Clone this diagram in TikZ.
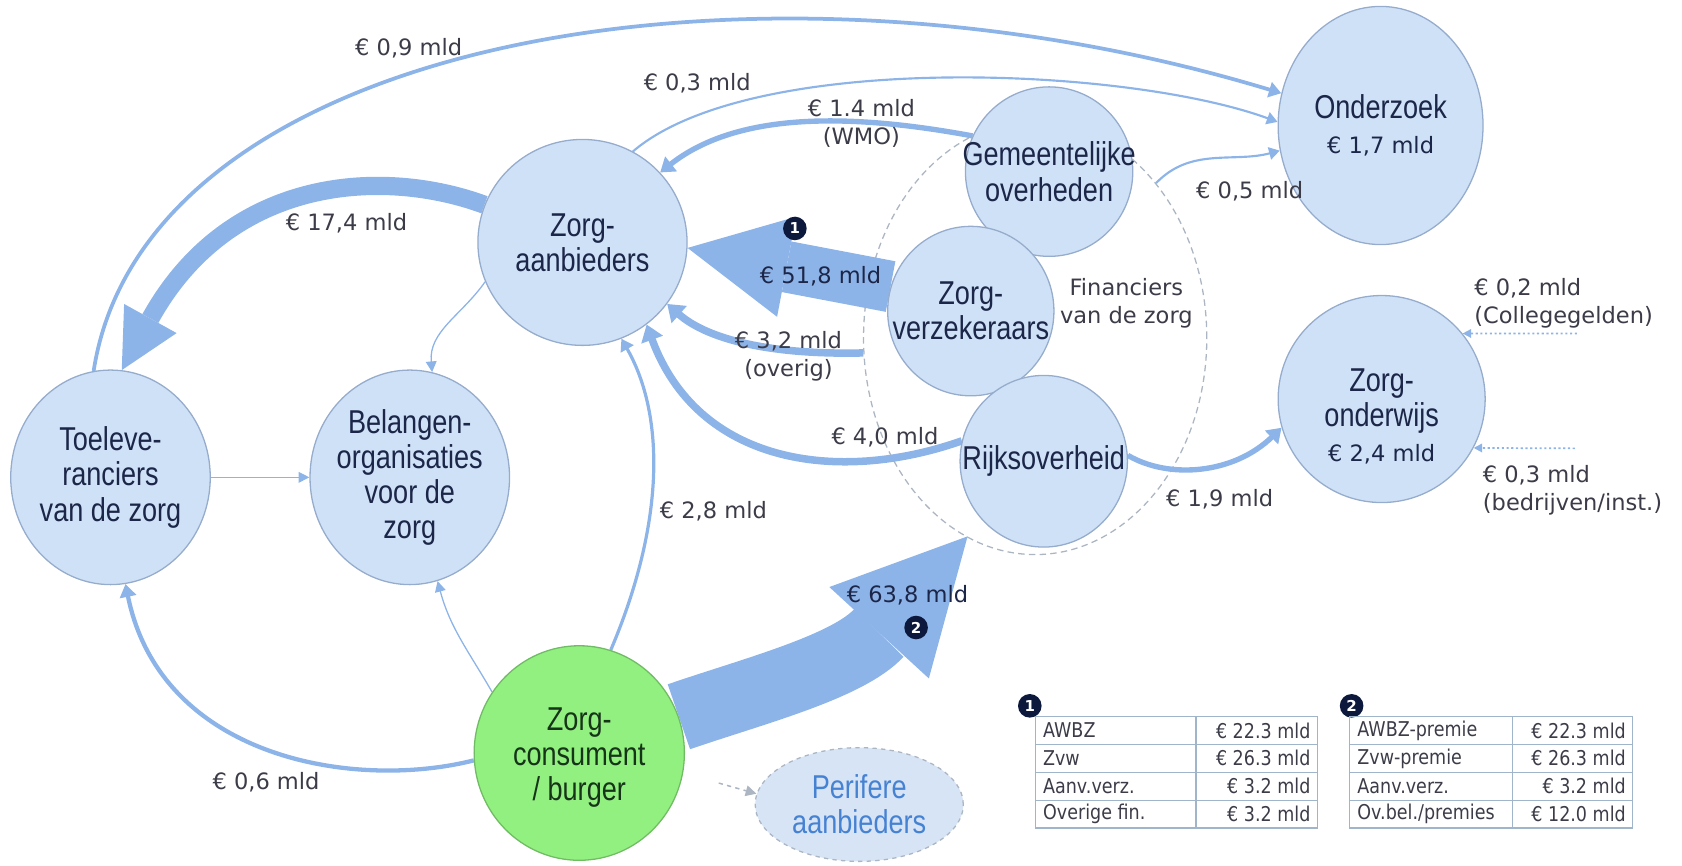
\documentclass[tikz,border=0pt]{standalone}
\usepackage{fontspec}
\setmainfont{DejaVu Sans}
\newfontfamily\narrowfont[FakeStretch=0.82]{Liberation Sans}
\newfontfamily\tablefont[FakeStretch=0.86]{DejaVu Sans}
\usetikzlibrary{shapes.geometric,arrows.meta,backgrounds}

\definecolor{bubfill}{RGB}{207,225,246}
\definecolor{bubline}{RGB}{150,172,204}
\definecolor{flowblue}{RGB}{141,180,232}
\definecolor{navy}{RGB}{28,38,72}
\definecolor{lblgray}{RGB}{60,60,72}
\definecolor{burgergreen}{RGB}{146,240,128}
\definecolor{burgerline}{RGB}{112,188,100}
\definecolor{dashgray}{RGB}{172,182,194}
\definecolor{perfill}{RGB}{214,228,246}
\definecolor{perblue}{RGB}{70,130,210}
\definecolor{badgecol}{RGB}{12,24,60}
\definecolor{tblgrid}{RGB}{160,180,202}

\tikzset{
  bubble/.style={ellipse, draw=bubline, fill=bubfill, line width=0.6pt, inner sep=0pt},
  bubtxt/.style={font=\narrowfont\fontsize{15.4}{16.4}\selectfont, text=navy, align=center, inner sep=0pt},
  amount/.style={font=\fontsize{10.5}{13}\selectfont, text=lblgray, align=center, inner sep=1pt},
  flowline/.style={draw=flowblue, line width=#1, -{Triangle[length=4pt 1, width=4pt 1.8]}},
  bigflow/.style={draw=flowblue, line width=#1},
  thinflow/.style={draw=flowblue, line width=0.6pt, -{Triangle[length=5pt, width=5pt]}},
  dashflow/.style={draw=dashgray, line width=0.7pt, dash pattern=on 2pt off 2pt, -{Triangle[length=5pt, width=5pt]}},
  dotflow/.style={draw=flowblue, line width=0.8pt, dash pattern=on 1pt off 1.2pt, -{Triangle[length=4pt, width=4pt]}},
  badge/.style={circle, fill=badgecol, text=white, font=\bfseries\fontsize{7}{7}\selectfont, inner sep=0pt, minimum size=11pt},
  cell/.style={font=\tablefont\fontsize{9.5}{11}\selectfont, text=lblgray, inner sep=0pt},
  tblcell/.style={draw=tblgrid, line width=0.6pt}
}

\begin{document}
\begin{tikzpicture}[x=0.5pt, y=0.5pt]
\useasboundingbox (0,0) rectangle (1568,807);

\node[bubble, minimum width=97.5pt, minimum height=96pt] (za) at (543,581) {};
\node[bubble, minimum width=78pt, minimum height=79pt] (go) at (978,647) {};
\node[bubble, minimum width=77.5pt, minimum height=79pt] (zv) at (905,517) {};
\node[bubble, minimum width=78pt, minimum height=80pt] (ro) at (973,377) {};
\node[bubble, minimum width=95.5pt, minimum height=111pt] (oz) at (1287,690) {};
\node[bubble, minimum width=96.5pt, minimum height=96.5pt] (zo) at (1288,435) {};
\node[bubble, minimum width=93pt, minimum height=100pt] (tl) at (103,362) {};
\node[bubble, minimum width=93pt, minimum height=100pt] (bo) at (382,362) {};
\node[bubble, fill=burgergreen, draw=burgerline, minimum width=98pt, minimum height=100pt] (zc) at (540,105) {};
\node[bubble, fill=perfill, draw=dashgray, dash pattern=on 2pt off 2pt, minimum width=97pt, minimum height=53pt] (pa) at (801,57) {};

\node[bubtxt] (zatxt) at (za) {Zorg-\\aanbieders};
\node[bubtxt] (gotxt) at (go) {Gemeentelijke\\overheden};
\node[bubtxt] (zvtxt) at (zv) {Zorg-\\verzekeraars};
\node[bubtxt] (rotxt) at (ro) {Rijksoverheid};
\node[bubtxt] (oztxt) at (oz) {Onderzoek\\{\rmfamily\fontsize{10.5}{16}\selectfont € 1,7 mld}};
\node[bubtxt] (zotxt) at (1288,419) {Zorg-\\onderwijs\\{\rmfamily\fontsize{10.5}{20}\selectfont € 2,4 mld}};
\node[bubtxt] (tltxt) at (tl) {Toeleve-\\ranciers\\van de zorg};
\node[bubtxt] (botxt) at (bo) {Belangen-\\organisaties\\voor de\\zorg};
\node[bubtxt, text={rgb,255:red,22;green,52;blue,24}] (zctxt) at (540,101) {Zorg-\\consument\\/ burger};
\node[bubtxt, text=perblue] (patxt) at (pa) {Perifere\\aanbieders};

\begin{scope}[on background layer]
\node[ellipse, draw=dashgray, line width=0.6pt, dash pattern=on 3pt off 2pt, minimum width=160pt, minimum height=202pt] (fin) at (965,492) {};

\draw[flowline=1.75pt] (tl.99) .. controls (135,770) and (700,870) .. (oz.162);
\draw[flowline=1pt] (za.61) .. controls (700,760) and (1050,745) .. (oz.178);
\draw[flowline=2.5pt] (go.155) .. controls (800,700) and (690,705) .. (za.42);
\draw[flowline=1pt] (fin.52) .. controls (1110,670) and (1150,655) .. (oz.194);
\draw[bigflow=8.5pt, -{Triangle[length=27.5pt, width=28pt, line width=0pt]}] (za.159) .. controls (360,650) and (215,645) .. (tl.84);
\draw[bigflow=24pt, -{Triangle[length=47pt, width=47.5pt, line width=0pt]}] (zv.163) -- (za.-3);
\draw[flowline=3.5pt] (fin.185) .. controls (720,476) and (660,490) .. (za.-36);
\draw[flowline=3.5pt] (ro.166) .. controls (780,355) and (650,375) .. (za.-52);
\draw[flowline=1.5pt] (zc.73) .. controls (620,320) and (620,420) .. (za.-68);
\coordinate (tip2) at (902,307);
\draw[bigflow=32pt, -{Triangle[length=61pt, width=63pt, line width=0pt]}] (zc.20) .. controls (700,162) and (790,185) .. (tip2);
\draw[flowline=2.5pt] (ro.4) .. controls (1090,360) and (1150,365) .. (zo.196);
\draw[flowline=2pt] (zc.184) .. controls (330,70) and (150,100) .. (tl.-82);
\draw[thinflow] (za.202) to[out=235, in=95] (bo.78);
\draw[thinflow] (tl.east) -- (bo.west);
\draw[thinflow] (zc.145) to[out=120, in=-75] (bo.-75);
\coordinate (pdash) at (670,77);
\draw[dashflow] (pdash) -- (pa.174);
\coordinate (cg) at (1470,496);
\draw[dotflow] (cg) -- (zo.39);
\coordinate (bi) at (1468,389);
\draw[dotflow] (bi) -- (zo.-28);
\end{scope}

\node[amount] (l09) at (381,762) {€ 0,9 mld};
\node[amount] (l03) at (650,729) {€ 0,3 mld};
\node[amount] (l14) at (803,692) {€ 1.4 mld\\(WMO)};
\node[amount] (l05) at (1165,629) {€ 0,5 mld};
\node[amount] (l174) at (323,599) {€ 17,4 mld};
\node[amount, text=navy] (l518) at (765,549) {€ 51,8 mld};
\node[amount] (l32) at (735,475) {€ 3,2 mld\\(overig)};
\node[amount] (l40) at (825,399) {€ 4,0 mld};
\node[amount] (l28) at (665,330) {€ 2,8 mld};
\node[amount, text=navy] (l638) at (846,252) {€ 63,8 mld};
\node[amount] (l19) at (1137,342) {€ 1,9 mld};
\node[amount] (l06) at (248,78) {€ 0,6 mld};
\node[amount] (finlbl) at (1050,524) {Financiers\\van de zorg};
\node[amount, align=left, anchor=west] (l02) at (1372,524) {€ 0,2 mld\\(Collegegelden)};
\node[amount, align=left, anchor=west] (l03b) at (1380,350) {€ 0,3 mld\\(bedrijven/inst.)};

\node[badge] (b1) at (741,594) {1};
\node[badge] (b2) at (854,222) {2};

\node[badge] (t1) at (960,149) {1};
\node[badge] (t2) at (1260,149) {2};
\foreach \a/\b/\c/\d [count=\i from 0] in {{AWBZ}/{€ 22.3 mld}/{AWBZ-premie}/{€ 22.3 mld},
  {Zvw}/{€ 26.3 mld}/{Zvw-premie}/{€ 26.3 mld},
  {Aanv.verz.}/{€ 3.2 mld}/{Aanv.verz.}/{€ 3.2 mld},
  {Overige fin.}/{€ 3.2 mld}/{Ov.bel./premies}/{€ 12.0 mld}}
{
  \draw[tblcell] (965,139-26*\i) rectangle (1115,113-26*\i) rectangle (1228,139-26*\i);
  \draw[tblcell] (1258,139-26*\i) rectangle (1410,113-26*\i) rectangle (1522,139-26*\i);
  \node[cell, anchor=west] (ca\i) at (972,126-26*\i) {\a};
  \node[cell, anchor=east] (cb\i) at (1222,126-26*\i) {\b};
  \node[cell, anchor=west] (cc\i) at (1265,126-26*\i) {\c};
  \node[cell, anchor=east] (cd\i) at (1516,126-26*\i) {\d};
}
\end{tikzpicture}
\end{document}
